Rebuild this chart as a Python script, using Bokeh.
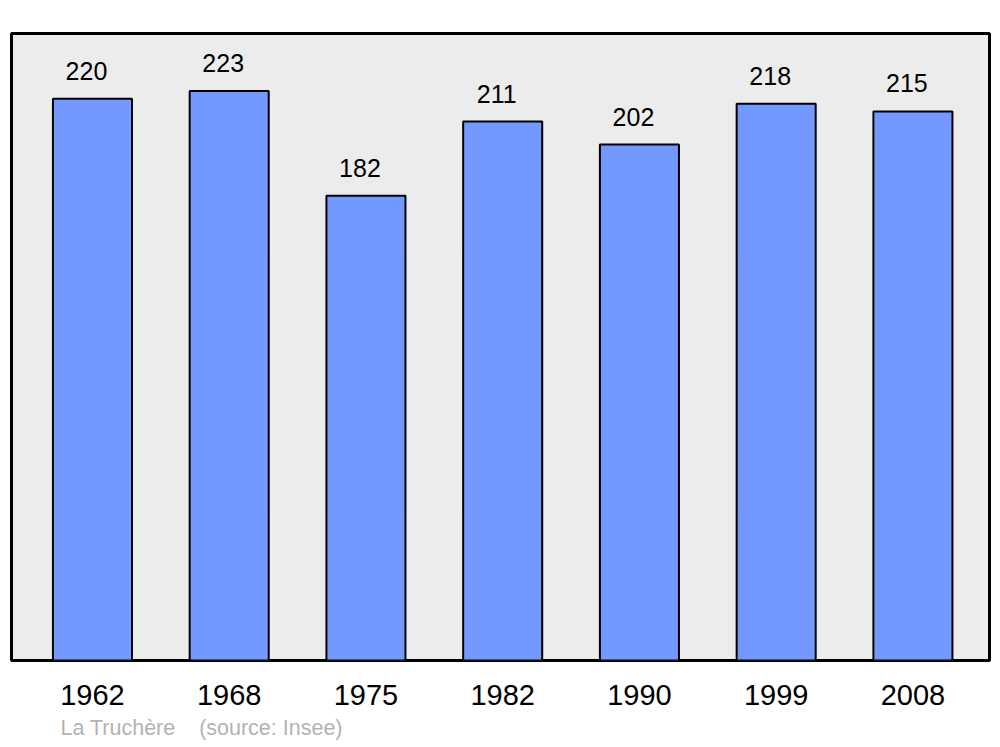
from bokeh.plotting import figure
from bokeh.models import ColumnDataSource, FixedTicker, Range1d, Title
from bokeh.embed import file_html
from bokeh.resources import INLINE
from bokeh.core.properties import value

years = ["1962", "1968", "1975", "1982", "1990", "1999", "2008"]
population = [220, 223, 182, 211, 202, 218, 215]
positions = list(range(len(years)))
source_text = "La Truchère\u00a0\u00a0\u00a0\u00a0(source: Insee)"

src = ColumnDataSource(dict(x=positions, top=population, lbl=[str(v) for v in population]))

p = figure(width=992, height=746, output_backend="svg", toolbar_location=None,
           x_range=Range1d(-0.592, 6.56), y_range=Range1d(0, 245.5),
           min_border_left=11, min_border_right=3, min_border_top=33, min_border_bottom=0)
p.background_fill_color = "#ececec"
p.border_fill_color = "white"
p.outline_line_color = "black"
p.outline_line_width = 3
p.outline_line_alpha = 1
p.grid.visible = False
p.yaxis.visible = False

p.vbar(x="x", top="top", width=0.578, bottom=0, source=src,
       fill_color="#7399ff", line_color="black", line_width=2)
p.text(x="x", y="top", text="lbl", source=src, x_offset=-6, y_offset=-19,
       text_align="center", text_baseline="bottom", text_color="black",
       text_font=value("Liberation Sans"), text_font_size="25px")

ax = p.xaxis[0]
ax.ticker = FixedTicker(ticks=positions)
ax.major_label_overrides = {i: y for i, y in enumerate(years)}
ax.axis_line_color = None
ax.major_tick_line_color = None
ax.minor_tick_line_color = None
ax.major_label_standoff = 18
ax.major_label_text_font = "Liberation Sans"
ax.major_label_text_font_size = "29px"
ax.major_label_text_color = "black"

t = Title(text=source_text, align="left", offset=49, text_color="#b3b3b3",
          text_font="Liberation Sans", text_font_size="21.5px", text_font_style="normal",
          standoff=13)
p.add_layout(t, "below")

open("out.html", "w").write(file_html(p, INLINE))
